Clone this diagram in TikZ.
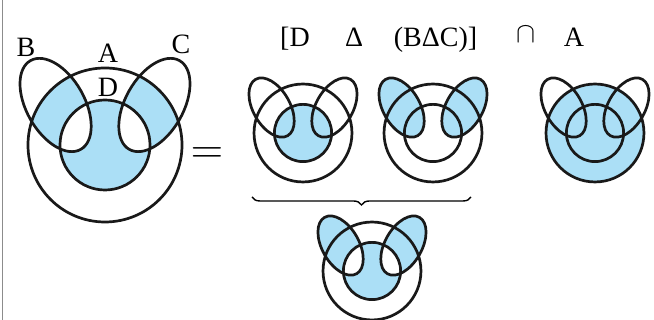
\documentclass[tikz,border=0pt]{standalone}
\usepackage{fontspec}
\setmainfont{Liberation Serif}
\newfontfamily\timesfont{Liberation Serif}
\usetikzlibrary{decorations.pathreplacing}
\definecolor{vennblue}{RGB}{171,223,246}

\begin{document}
\begin{tikzpicture}[x=1pt, y=1pt, font=\timesfont\fontsize{28}{32}\selectfont,
		vennline/.style={draw=black!90, line width=2.7pt},
		vennfill/.style={fill=vennblue, even odd rule},
		lbl/.style={inner sep=0pt, anchor=base}]
	\def\pathA{(0,0) circle [radius=77]}
	\def\pathD{(0,0) circle [radius=45]}
	\def\pathB{(-49.4,40) ellipse [x radius=51, y radius=29, rotate=-60.5]}
	\def\pathC{(49.4,40) ellipse [x radius=51, y radius=29, rotate=60.5]}
	\def\s{0.636}
	\useasboundingbox (0,0) rectangle (654,320);
	\draw[black!45, line width=1pt] (2.5,0) -- (2.5,320);
	% ---------------- left-hand side ----------------
	\begin{scope}[shift={(105,175)}]
		\begin{scope}
			\clip \pathA;
			\fill[vennfill] \pathB \pathC \pathD;
		\end{scope}
		\draw[vennline] \pathA \pathD \pathB \pathC;
	\end{scope}
	\node[lbl] (labB) at (26,263) {B};
	\node[lbl] (labA) at (108,257) {A};
	\node[lbl] (labC) at (181,266) {C};
	\node[lbl] (labD) at (108,223) {D};
	\node[lbl, scale=1.8] (eq) at (207,156) {$=$};
	% ---------------- formula ----------------
	\node[lbl] (fD) at (295,273) {[D};
	\node[lbl] (fdelta) at (354,273) {Δ};
	\node[lbl] (fBC) at (435.5,273) {(BΔC)]};
	\node[lbl, scale=1.15] (fcap) at (526,277) {$\cap$};
	\node[lbl] (fA) at (574,273) {A};
	% D
	\begin{scope}[shift={(303,187)}, scale=\s]
		\fill[vennfill] \pathD;
		\draw[vennline] \pathA \pathD \pathB \pathC;
	\end{scope}
	% B delta C
	\begin{scope}[shift={(433,187)}, scale=\s]
		\fill[vennfill] \pathB \pathC;
		\draw[vennline] \pathA \pathD \pathB \pathC;
	\end{scope}
	% A
	\begin{scope}[shift={(595,187)}, scale=\s]
		\fill[vennfill] \pathA;
		\draw[vennline] \pathA \pathD \pathB \pathC;
	\end{scope}
	% brace and result
	\coordinate (bl) at (252,123);
	\coordinate (br) at (471,123);
	\draw[decorate, decoration={brace, mirror, amplitude=8pt}, line width=1.4pt] (bl) -- (br);
	\begin{scope}[shift={(372,49)}, scale=\s]
		\fill[vennfill] \pathB \pathC \pathD;
		\draw[vennline] \pathA \pathD \pathB \pathC;
	\end{scope}
\end{tikzpicture}
\end{document}
